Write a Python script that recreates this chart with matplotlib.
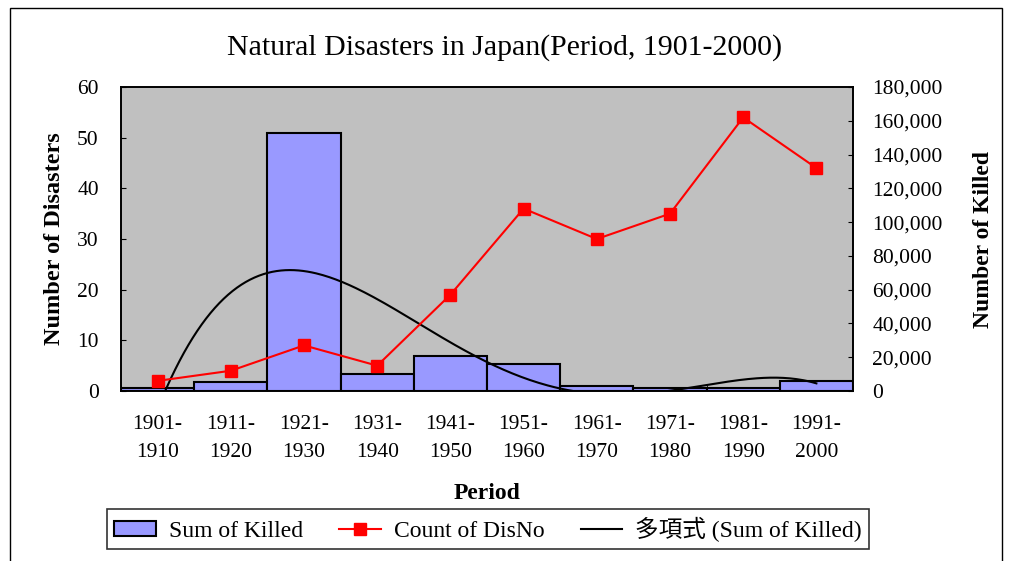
import numpy as np
import matplotlib.pyplot as plt
from matplotlib.patches import Rectangle
from matplotlib.lines import Line2D
from matplotlib.patches import Patch

plt.rcParams['font.family'] = ['Liberation Serif', 'Noto Sans CJK JP']

periods = ["1901-\n1910", "1911-\n1920", "1921-\n1930", "1931-\n1940", "1941-\n1950",
           "1951-\n1960", "1961-\n1970", "1971-\n1980", "1981-\n1990", "1991-\n2000"]
killed = [1500, 5300, 153000, 10300, 21000, 15800, 3200, 1600, 1500, 6200]
count_disno = [2, 4, 9, 5, 19, 36, 30, 35, 54, 44]

fig = plt.figure(figsize=(10.1, 5.61), dpi=100)
fig.patches.append(Rectangle((10 / 1010, -0.1), 992 / 1010, 1 - 8 / 561 + 0.1,
                             transform=fig.transFigure, fill=False,
                             edgecolor='black', linewidth=1))

ax = fig.add_axes([121 / 1010, 1 - 391 / 561, 732 / 1010, 304 / 561])
ax2 = ax.twinx()
ax.set_zorder(ax2.get_zorder() + 1)
ax.patch.set_visible(False)
ax2.set_facecolor('#C0C0C0')
ax2.patch.set_visible(True)

x = np.arange(len(periods))

# bars: Sum of Killed on right axis
ax2.bar(x, killed, width=1.0, color='#9999FF', edgecolor='black', linewidth=1.5, zorder=2)

# polynomial trendline (order 4) of Sum of Killed
coef = np.polyfit(x + 1, killed, 4)
xs = np.linspace(0, 9, 300)
ax2.plot(xs, np.polyval(coef, xs + 1), color='black', linewidth=1.5, zorder=3)
ax2.set_ylim(0, 180000)
ax2.set_yticks(np.arange(0, 180001, 20000))
ax2.set_yticklabels([f"{v:,}" for v in range(0, 180001, 20000)])
ax2.set_ylabel("Number of Killed", fontsize=17, fontweight='bold', labelpad=22)

# line: Count of DisNo on left axis
ax.plot(x, count_disno, color='red', marker='s', markersize=9, linewidth=1.5, zorder=4)
ax.set_ylim(0, 60)
ax.set_yticks(np.arange(0, 61, 10))
ax.set_xlim(-0.5, 9.5)
ax.set_xticks(x)
ax.set_xticklabels(periods, fontsize=15.5, linespacing=1.65)
ax.set_xticks(np.arange(-0.5, 10, 1), minor=True)
ax.tick_params(axis='x', which='major', length=0, pad=17)
ax.tick_params(axis='x', which='minor', direction='in', length=4)
ax.tick_params(axis='y', direction='in', labelsize=15.5, pad=16)
ax2.tick_params(axis='y', direction='in', labelsize=15.5, pad=14)
ax.set_ylabel("Number of Disasters", fontsize=17.5, fontweight='bold', labelpad=9)
ax.set_xlabel("Period", fontsize=17, fontweight='bold', labelpad=15)
for a in (ax, ax2):
    for s in a.spines.values():
        s.set_linewidth(1.2)

fig.text(0.5, 1 - 48 / 561, "Natural Disasters in Japan(Period, 1901-2000)",
         ha='center', va='center', fontsize=21.5)

handles = [Patch(facecolor='#9999FF', edgecolor='black', linewidth=1.5),
           Line2D([0], [0], color='red', marker='s', markersize=9, linewidth=1.5),
           Line2D([0], [0], color='black', linewidth=1.5)]
labels = ["Sum of Killed", "Count of DisNo", "多項式 (Sum of Killed)"]
leg = fig.legend(handles, labels, loc='center', bbox_to_anchor=(488 / 1010, 1 - 529 / 561),
                 ncol=3, fontsize=17, frameon=True, fancybox=False, edgecolor='black',
                 handlelength=1.75, handleheight=0.6, columnspacing=1.55,
                 handletextpad=0.55, borderpad=0.3)
leg.get_frame().set_linewidth(1.2)

fig.savefig("out.png", dpi=100)
